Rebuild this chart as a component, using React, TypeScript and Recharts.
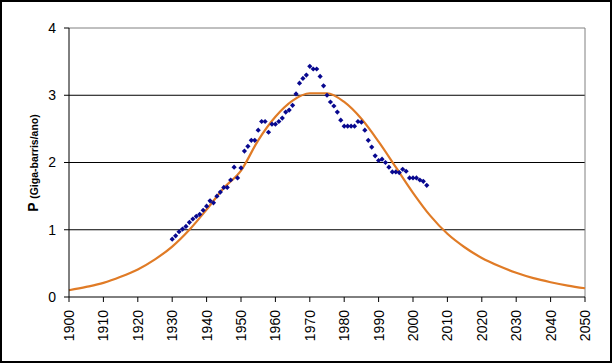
import { ComposedChart, Line, Scatter, XAxis, YAxis, ReferenceLine } from 'recharts'

// observed production, one point per year from 1930
const obsYears = [
  1930, 1931, 1932, 1933, 1934, 1935, 1936, 1937, 1938, 1939,
  1940, 1941, 1942, 1943, 1944, 1945, 1946, 1947, 1948, 1949,
  1950, 1951, 1952, 1953, 1954, 1955, 1956, 1957, 1958, 1959,
  1960, 1961, 1962, 1963, 1964, 1965, 1966, 1967, 1968, 1969,
  1970, 1971, 1972, 1973, 1974, 1975, 1976, 1977, 1978, 1979,
  1980, 1981, 1982, 1983, 1984, 1985, 1986, 1987, 1988, 1989,
  1990, 1991, 1992, 1993, 1994, 1995, 1996, 1997, 1998, 1999,
  2000, 2001, 2002, 2003, 2004,
]
const obsValues = [
  0.86, 0.91, 0.97, 1.01, 1.05, 1.11, 1.16, 1.2, 1.23, 1.29,
  1.35, 1.43, 1.4, 1.5, 1.56, 1.63, 1.63, 1.74, 1.93, 1.77,
  1.92, 2.17, 2.24, 2.33, 2.33, 2.48, 2.61, 2.61, 2.45, 2.57,
  2.57, 2.61, 2.66, 2.75, 2.78, 2.85, 3.02, 3.18, 3.25, 3.3,
  3.43, 3.39, 3.39, 3.28, 3.14, 3.0, 2.9, 2.84, 2.75, 2.63,
  2.54, 2.54, 2.54, 2.54, 2.61, 2.6, 2.48, 2.33, 2.23, 2.1,
  2.03, 2.05, 2.0, 1.93, 1.86, 1.86, 1.85, 1.9, 1.87, 1.77,
  1.77, 1.77, 1.74, 1.72, 1.66,
]

// fitted curve, read every 5 years
const curveYears = [
  1900, 1905, 1910, 1915, 1920, 1925, 1930, 1935, 1940, 1945,
  1950, 1955, 1960, 1965, 1970, 1975, 1980, 1985, 1990, 1995,
  2000, 2005, 2010, 2015, 2020, 2025, 2030, 2035, 2040, 2045, 2050,
]
const curveValues = [
  0.1, 0.15, 0.21, 0.3, 0.41, 0.56, 0.75, 1.0, 1.3, 1.62,
  1.88, 2.33, 2.68, 2.92, 3.03, 3.03, 2.9, 2.65, 2.31, 1.93,
  1.55, 1.21, 0.94, 0.74, 0.58, 0.46, 0.36, 0.28, 0.22, 0.17, 0.13,
]

const xTicks = [1900, 1910, 1920, 1930, 1940, 1950, 1960, 1970, 1980, 1990, 2000, 2010, 2020, 2030, 2040, 2050]
const yTicks = [0, 1, 2, 3, 4]

const observed = obsYears.map((year, i) => ({ year, p: obsValues[i] }))
const curve = curveYears.map((year, i) => ({ year, fit: curveValues[i] }))

const FONT = '"Liberation Sans", Arial, sans-serif'

function YearTick({ x, y, payload }: any) {
  return (
    <text
      x={x}
      y={y}
      transform={`rotate(-90 ${x} ${y})`}
      textAnchor="end"
      dominantBaseline="central"
      fontFamily={FONT}
      fontSize={14}
      fill="#000"
    >
      {payload.value}
    </text>
  )
}

function Diamond({ cx, cy }: any) {
  const r = 2.6
  return <polygon points={`${cx},${cy - r} ${cx + r},${cy} ${cx},${cy + r} ${cx - r},${cy}`} fill="#08088f" />
}

export default function App() {
  return (
    <div style={{ position: 'absolute', left: 0, top: 0, width: 613, height: 364, background: '#fff' }}>
      <div
        style={{
          position: 'absolute', left: 0, top: 0, width: 612, height: 363,
          border: '2px solid #000', boxSizing: 'border-box',
        }}
      />
      <ComposedChart width={613} height={364} margin={{ top: 28, right: 28, bottom: 7, left: 0 }}>
        <XAxis
          type="number"
          dataKey="year"
          domain={[1900, 2050]}
          ticks={xTicks}
          interval={0}
          height={60}
          tickSize={5}
          tickMargin={8}
          stroke="#000"
          tickLine={{ stroke: '#000' }}
          tick={<YearTick />}
          allowDuplicatedCategory={false}
        />
        <YAxis
          type="number"
          domain={[0, 4]}
          ticks={yTicks}
          width={69}
          tickSize={5}
          tickMargin={8}
          stroke="#000"
          tick={{ fill: '#000', fontSize: 14, fontFamily: FONT }}
          label={{
            content: () => (
              <text transform="rotate(-90 38 163)" x={38} y={163} textAnchor="middle" fontFamily={FONT} fontWeight="bold" fill="#000">
                <tspan fontSize={14}>P </tspan>
                <tspan fontSize={10.5}>(Giga-barris/ano)</tspan>
              </text>
            ),
          }}
        />
        <ReferenceLine y={1} stroke="#000" />
        <ReferenceLine y={2} stroke="#000" />
        <ReferenceLine y={3} stroke="#000" />
        <ReferenceLine y={4} stroke="#808080" />
        <ReferenceLine x={2050} stroke="#808080" />
        <Scatter data={observed} dataKey="p" shape={<Diamond />} isAnimationActive={false} />
        <Line
          data={curve}
          dataKey="fit"
          type="monotone"
          stroke="#e07b26"
          strokeWidth={2.2}
          dot={false}
          isAnimationActive={false}
        />
      </ComposedChart>
    </div>
  )
}
